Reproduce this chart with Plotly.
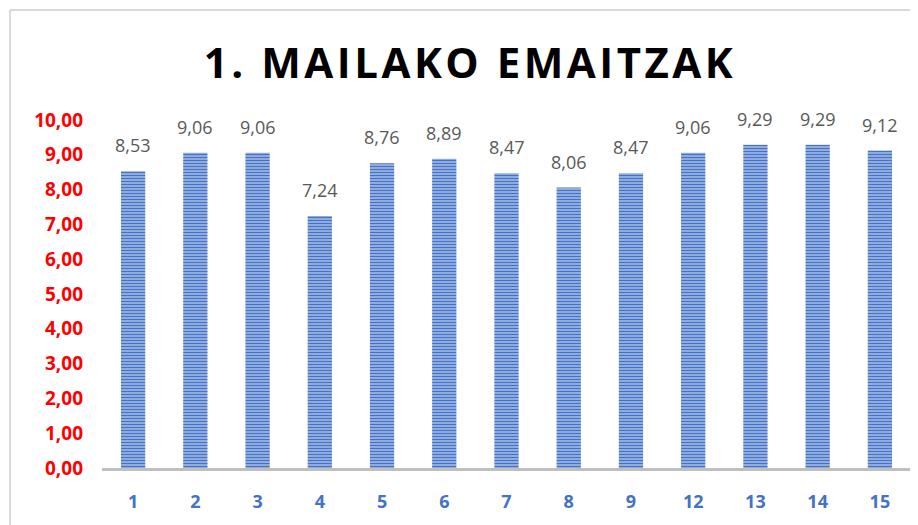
import plotly.graph_objects as go

categories = ["1", "2", "3", "4", "5", "6", "7", "8", "9", "12", "13", "14", "15"]
values = [8.53, 9.06, 9.06, 7.24, 8.76, 8.89, 8.47, 8.06, 8.47, 9.06, 9.29, 9.29, 9.12]
y_ticks = [0, 1, 2, 3, 4, 5, 6, 7, 8, 9, 10]
title_text = "1. MAILAKO EMAITZAK"

fig = go.Figure()
fig.add_trace(go.Bar(
    x=categories,
    y=values,
    width=0.39,
    marker=dict(
        color="#8FAADC",
        line=dict(width=0),
        pattern=dict(shape="-", fgcolor="#4472C4", bgcolor="#A9BEE6", size=3, solidity=0.5, fillmode="replace"),
    ),
    hoverinfo="skip",
))

for i, v in enumerate(values):
    fig.add_annotation(
        x=i, y=v, text=f"{v:.2f}".replace(".", ","),
        showarrow=False, yanchor="bottom", yshift=12,
        font=dict(family="Open Sans", size=18, color="#595959"),
    )

# chart frame (top and left visible edges)
fig.add_shape(type="line", xref="paper", yref="paper",
              x0=(10 - 102) / 809, x1=1.05, y0=(468 - 10) / 348, y1=(468 - 10) / 348,
              line=dict(color="#D9D9D9", width=2))
fig.add_shape(type="line", xref="paper", yref="paper",
              x0=(10 - 102) / 809, x1=(10 - 102) / 809, y0=(468 - 10) / 348, y1=-0.2,
              line=dict(color="#D9D9D9", width=2))

fig.update_layout(
    width=918, height=525,
    margin=dict(l=94, r=15, t=112, b=65, autoexpand=False),
    paper_bgcolor="white", plot_bgcolor="white",
    separators=",.",
    showlegend=False,
    title=dict(text='<span style="letter-spacing:3.5px">' + title_text + '</span>',
               x=(470 - 102) / 809, xref="paper", xanchor="center", y=1 - 55 / 525, yanchor="middle",
               font=dict(family="Open Sans", size=42, color="#000000", weight="bold")),
    xaxis=dict(
        type="category",
        showline=True, linecolor="#BFBFBF", linewidth=3,
        showgrid=False, ticks="", automargin=False,
        tickfont=dict(family="Open Sans", size=18, color="#4472C4", weight="bold"),
        ticklabelstandoff=15,
        range=[-0.5, 12.5],
    ),
    yaxis=dict(
        range=[0, 10], tickvals=y_ticks, tickformat=".2f",
        showgrid=False, showline=False, zeroline=False, ticks="", automargin=False,
        tickfont=dict(family="Open Sans", size=19, color="#FF0000", weight="bold"),
        ticklabelstandoff=18,
    ),
)

fig.write_html("out.html")
